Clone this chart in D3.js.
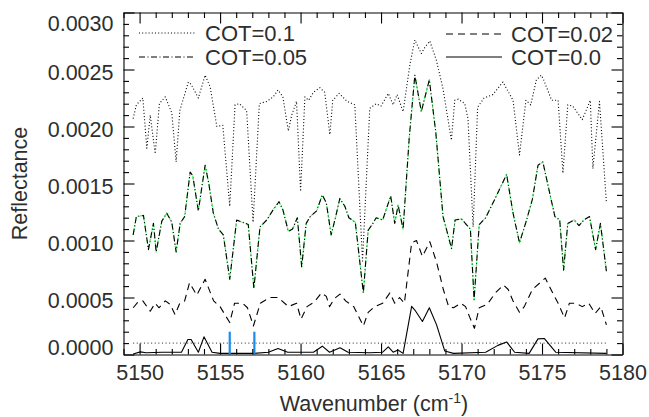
<!DOCTYPE html>
<html>
<head>
<meta charset="utf-8">
<script src="https://cdn.jsdelivr.net/npm/d3@7"></script>
<style>
  html, body { margin: 0; padding: 0; background: #fff; }
  svg { display: block; font-family: "Liberation Sans", Arial, Helvetica, sans-serif; }
</style>
</head>
<body>
<svg id="chart" width="649" height="417"></svg>
<script>
// ---------- data (wavenumber cm^-1, reflectance) ----------
const xDomain = [5149, 5180];
const yDomain = [0, 0.003];
const xMajorTicks = [5150, 5155, 5160, 5165, 5170, 5175, 5180];
const yMajorTicks = [0, 0.0005, 0.0010, 0.0015, 0.0020, 0.0025, 0.0030];
const legendLabels = ["COT=0.1", "COT=0.05", "COT=0.02", "COT=0.0"];

const cot01 = [
  [5149.6,0.00207],[5149.8,0.00219],[5150.2,0.00225],[5150.45,0.00181],[5150.66,0.00210],
  [5150.97,0.00176],[5151.23,0.00220],[5151.59,0.00226],[5152.0,0.00212],[5152.27,0.00169],
  [5152.5,0.00214],[5153.03,0.00239],[5153.2,0.00237],[5153.65,0.00225],[5154.07,0.00245],
  [5154.38,0.00235],[5154.8,0.00200],[5155.17,0.00201],[5155.6,0.00130],[5155.93,0.00219],
  [5156.2,0.00220],[5156.65,0.00214],[5157.05,0.00116],[5157.44,0.00220],[5157.9,0.00222],
  [5158.3,0.00226],[5158.6,0.00232],[5158.9,0.00226],[5159.24,0.00196],[5159.45,0.00210],
  [5159.75,0.00222],[5160.0,0.00143],[5160.27,0.00226],[5160.5,0.00223],[5160.8,0.00230],
  [5161.2,0.00234],[5161.5,0.00230],[5161.82,0.00193],[5162.0,0.00223],[5162.4,0.00229],
  [5162.9,0.00222],[5163.37,0.00219],[5163.85,0.00082],[5164.3,0.00216],[5164.7,0.00220],
  [5165.0,0.00218],[5165.45,0.00229],[5165.75,0.00219],[5166.0,0.00228],[5166.37,0.00213],
  [5166.8,0.00255],[5167.1,0.00276],[5167.5,0.00264],[5167.75,0.00270],[5168.03,0.00275],
  [5168.44,0.00258],[5168.85,0.00233],[5169.37,0.00188],[5169.58,0.00223],[5169.8,0.00224],
  [5170.2,0.00220],[5170.4,0.00207],[5170.72,0.00112],[5171.0,0.00217],[5171.4,0.00225],
  [5171.95,0.00228],[5172.57,0.00239],[5173.2,0.00223],[5173.6,0.00175],[5174.0,0.00223],
  [5174.3,0.00219],[5174.65,0.00241],[5174.96,0.00245],[5175.1,0.00241],[5175.6,0.00223],
  [5176.0,0.00223],[5176.3,0.00159],[5176.6,0.00219],[5176.9,0.00218],[5177.5,0.00206],
  [5178.0,0.00223],[5178.16,0.00163],[5178.57,0.00222],[5179.0,0.00133]
];

const cot005 = [
  [5149.6,0.00105],[5149.8,0.00121],[5150.24,0.00122],[5150.55,0.00092],[5150.86,0.00115],
  [5151.03,0.00090],[5151.38,0.00117],[5151.69,0.00124],[5152.0,0.00116],[5152.27,0.00090],
  [5152.52,0.00115],[5152.8,0.00121],[5153.14,0.00160],[5153.3,0.00157],[5153.65,0.00126],
  [5154.07,0.00166],[5154.3,0.00150],[5154.58,0.00124],[5154.9,0.00110],[5155.2,0.00105],
  [5155.6,0.00066],[5156.03,0.00118],[5156.4,0.00116],[5156.75,0.00114],[5157.1,0.00058],
  [5157.48,0.00112],[5157.9,0.00118],[5158.3,0.00127],[5158.66,0.00134],[5158.9,0.00127],
  [5159.24,0.00108],[5159.5,0.00110],[5159.8,0.00120],[5160.07,0.00077],[5160.35,0.00115],
  [5160.6,0.00121],[5161.0,0.00126],[5161.35,0.00140],[5161.6,0.00133],[5161.9,0.00105],
  [5162.2,0.00122],[5162.44,0.00137],[5162.75,0.00130],[5163.0,0.00120],[5163.4,0.00116],
  [5163.9,0.00054],[5164.2,0.00109],[5164.45,0.00114],[5164.7,0.00120],[5165.1,0.00118],
  [5165.6,0.00139],[5165.85,0.00115],[5166.06,0.00131],[5166.37,0.00110],[5166.75,0.00190],
  [5167.1,0.00245],[5167.5,0.00213],[5168.0,0.00241],[5168.4,0.00195],[5168.85,0.00121],
  [5169.38,0.00093],[5169.6,0.00118],[5170.0,0.00119],[5170.3,0.00114],[5170.55,0.00110],
  [5170.78,0.00048],[5171.1,0.00114],[5171.5,0.00120],[5172.06,0.00136],[5172.8,0.00158],
  [5173.2,0.00124],[5173.6,0.00098],[5174.0,0.00116],[5174.4,0.00136],[5174.75,0.00166],
  [5175.05,0.00169],[5175.8,0.00121],[5176.1,0.00118],[5176.34,0.00074],[5176.6,0.00115],
  [5177.0,0.00118],[5177.3,0.00113],[5177.6,0.00118],[5177.95,0.00121],[5178.33,0.00092],
  [5178.63,0.00115],[5179.0,0.00073]
];

// green dotted companion curve (overlies COT=0.05)
const cot005Green = cot005;

const cot002 = [
  [5149.6,0.00041],[5149.9,0.00046],[5150.2,0.00047],[5150.66,0.00038],[5150.97,0.00045],
  [5151.2,0.00041],[5151.6,0.00047],[5151.9,0.00044],[5152.2,0.00035],[5152.5,0.00045],
  [5152.8,0.00047],[5153.1,0.00063],[5153.55,0.00052],[5154.07,0.00066],[5154.6,0.00047],
  [5155.0,0.00042],[5155.6,0.00028],[5155.9,0.00045],[5156.4,0.00045],[5156.7,0.00041],
  [5157.07,0.00025],[5157.5,0.00045],[5158.1,0.00050],[5158.6,0.00050],[5159.25,0.00042],
  [5159.75,0.00045],[5160.03,0.00031],[5160.4,0.00042],[5160.85,0.00046],[5161.3,0.00054],
  [5161.6,0.00051],[5161.8,0.00042],[5162.1,0.00049],[5162.45,0.00053],[5162.8,0.00047],
  [5163.3,0.00042],[5163.9,0.00025],[5164.2,0.00037],[5164.6,0.00042],[5165.1,0.00045],
  [5165.55,0.00054],[5165.85,0.00045],[5166.15,0.00050],[5166.45,0.00045],[5166.9,0.00098],
  [5167.2,0.00100],[5167.57,0.00086],[5168.03,0.00099],[5168.45,0.00081],[5168.87,0.00057],
  [5169.2,0.00042],[5169.5,0.00041],[5169.95,0.00045],[5170.25,0.00042],[5170.5,0.00033],
  [5170.8,0.00023],[5171.1,0.00041],[5171.6,0.00044],[5172.1,0.00054],[5172.6,0.00061],
  [5172.9,0.00057],[5173.2,0.00047],[5173.6,0.00037],[5173.9,0.00042],[5174.4,0.00057],
  [5175.2,0.00067],[5175.7,0.00053],[5176.0,0.00045],[5176.4,0.00032],[5176.7,0.00045],
  [5177.1,0.00045],[5177.5,0.00042],[5177.9,0.00045],[5178.3,0.00036],[5178.65,0.00042],
  [5179.0,0.00026]
];

const cot000 = [
  [5149.6,0.000005],[5150.05,0.000023],[5150.4,0.000015],[5151.4,0.000020],[5152.6,0.000020],
  [5153.0,0.000131],[5153.2,0.000131],[5153.65,0.000020],[5154.0,0.000155],[5154.5,0.000020],
  [5155.0,0.000010],[5155.8,0.000010],[5157.1,0.000010],[5158.0,0.000020],[5158.6,0.000053],
  [5159.2,0.000020],[5160.8,0.000020],[5161.35,0.000073],[5161.8,0.000020],[5162.45,0.000059],
  [5162.95,0.000020],[5164.3,0.000015],[5165.1,0.000020],[5165.45,0.000067],[5165.75,0.000020],
  [5166.05,0.000040],[5166.37,0.000010],[5166.9,0.000423],[5167.1,0.000390],[5167.57,0.000290],
  [5168.0,0.000410],[5168.45,0.000260],[5168.96,0.000030],[5169.5,0.000010],[5171.5,0.000020],
  [5172.26,0.000080],[5172.8,0.000110],[5173.3,0.000020],[5174.2,0.000010],[5174.75,0.000137],
  [5175.15,0.000140],[5175.85,0.000020],[5179.0,0.000010]
];

const noiseLevel = [[5149.6, 0.0001], [5179.0, 0.0001]];
const markerLines = [5155.6, 5157.13];
const markerTop = 0.0002;

// ---------- layout ----------
const L = 123.5, R = 622.5, T = 12.5, B = 354.5;
const FONT = 21.5;
const TEXT_COLOR = "#2e2e2e";

const svg = d3.select("#chart");
const x = d3.scaleLinear().domain(xDomain).range([L, R]);
const y = d3.scaleLinear().domain(yDomain).range([B, T]);

const line = d3.line().x(d => x(d[0])).y(d => y(d[1]));
const plot = svg.append("g");

function drawSeries(data, opts) {
  plot.append("path").datum(data)
    .attr("d", line)
    .attr("fill", "none")
    .attr("stroke", opts.color || "#000")
    .attr("stroke-width", opts.width || 1.1)
    .attr("stroke-dasharray", opts.dash || null)
    .attr("stroke-linejoin", "round");
}

drawSeries(noiseLevel, { dash: "1,2.6", width: 1, color: "#222" });
drawSeries(cot01, { dash: "1,2.2", color: "#000" });
drawSeries(cot005Green, { dash: "1.2,1.6", color: "#33ff55", width: 1.4 });
drawSeries(cot005, { dash: "6,2.5,1,2.5", color: "#000" });
drawSeries(cot002, { dash: "7,5", color: "#000" });
drawSeries(cot000, { color: "#000" });

// blue marker lines
plot.selectAll("line.marker").data(markerLines).enter().append("line")
  .attr("class", "marker")
  .attr("x1", d => x(d)).attr("x2", d => x(d))
  .attr("y1", y(0)).attr("y2", y(markerTop))
  .attr("stroke", "#1a8cf0").attr("stroke-width", 2.2);

// ---------- axes ----------
const xMinor = d3.range(xDomain[0], xDomain[1] + 0.001, 1).filter(v => !xMajorTicks.includes(Math.round(v)));
const yMinor = d3.range(0, 31).map(i => i * 0.0001).filter((v, i) => i % 5 !== 0);

function styleAxis(g) {
  g.selectAll("path.domain").attr("stroke", "#000").attr("stroke-width", 1.1);
  g.selectAll(".tick line").attr("stroke", "#000").attr("stroke-width", 1.1);
  g.selectAll("text").attr("fill", TEXT_COLOR).style("font-size", FONT + "px")
    .style("font-family", "'Liberation Sans', Arial, sans-serif");
}

// bottom
const gB = svg.append("g").attr("transform", `translate(0,${B})`)
  .call(d3.axisBottom(x).tickValues(xMajorTicks).tickFormat(d3.format("d"))
    .tickSizeInner(-11).tickSizeOuter(0).tickPadding(10));
styleAxis(gB);
svg.append("g").attr("transform", `translate(0,${B})`)
  .call(d3.axisBottom(x).tickValues(xMinor).tickFormat("").tickSizeInner(-5.5).tickSizeOuter(0))
  .call(styleAxis).select("path.domain").remove();

// top
svg.append("g").attr("transform", `translate(0,${T})`)
  .call(d3.axisTop(x).tickValues(xMajorTicks).tickFormat("").tickSizeInner(-11).tickSizeOuter(0))
  .call(styleAxis);
svg.append("g").attr("transform", `translate(0,${T})`)
  .call(d3.axisTop(x).tickValues(xMinor).tickFormat("").tickSizeInner(-5.5).tickSizeOuter(0))
  .call(styleAxis).select("path.domain").remove();

// left
const gL = svg.append("g").attr("transform", `translate(${L},0)`)
  .call(d3.axisLeft(y).tickValues(yMajorTicks).tickFormat(d3.format(".4f"))
    .tickSizeInner(-11).tickSizeOuter(0).tickPadding(10));
styleAxis(gL);
gL.selectAll(".tick text")
  .attr("dy", null)
  .attr("dominant-baseline", "central")
  .attr("y", d => {
    const ty = y(d);
    const c = Math.max(T + 11, Math.min(B - 7, ty + 2.5));
    return c - ty;
  });
svg.append("g").attr("transform", `translate(${L},0)`)
  .call(d3.axisLeft(y).tickValues(yMinor).tickFormat("").tickSizeInner(-5.5).tickSizeOuter(0))
  .call(styleAxis).select("path.domain").remove();

// right
svg.append("g").attr("transform", `translate(${R},0)`)
  .call(d3.axisRight(y).tickValues(yMajorTicks).tickFormat("").tickSizeInner(-11).tickSizeOuter(0))
  .call(styleAxis);
svg.append("g").attr("transform", `translate(${R},0)`)
  .call(d3.axisRight(y).tickValues(yMinor).tickFormat("").tickSizeInner(-5.5).tickSizeOuter(0))
  .call(styleAxis).select("path.domain").remove();

// ---------- titles ----------
svg.append("text")
  .attr("transform", `translate(27,${(T + B) / 2}) rotate(-90)`)
  .attr("text-anchor", "middle")
  .attr("fill", TEXT_COLOR)
  .style("font-size", FONT + "px")
  .text("Reflectance");

const xt = svg.append("text")
  .attr("x", (L + R) / 2 + 1).attr("y", 411)
  .attr("text-anchor", "middle")
  .attr("fill", TEXT_COLOR)
  .style("font-size", FONT + "px");
xt.append("tspan").text("Wavenumber (cm");
xt.append("tspan").attr("dy", -8).style("font-size", "14px").text("-1");
xt.append("tspan").attr("dy", 8).text(")");

// ---------- legend ----------
const legendItems = [
  { label: legendLabels[0], x1: 139, x2: 195, y: 33, tx: 205, dash: "1,2.2" },
  { label: legendLabels[1], x1: 139, x2: 195, y: 57, tx: 205, dash: "6,2.5,1,2.5" },
  { label: legendLabels[2], x1: 446, x2: 502, y: 34, tx: 511, dash: "7,5" },
  { label: legendLabels[3], x1: 446, x2: 502, y: 57, tx: 511, dash: null }
];
const lg = svg.append("g");
legendItems.forEach(it => {
  lg.append("line")
    .attr("x1", it.x1).attr("x2", it.x2).attr("y1", it.y).attr("y2", it.y)
    .attr("stroke", "#000").attr("stroke-width", 1.1)
    .attr("stroke-dasharray", it.dash);
  lg.append("text")
    .attr("x", it.tx).attr("y", it.y + 8)
    .attr("fill", TEXT_COLOR)
    .style("font-size", (FONT + 0.5) + "px")
    .text(it.label);
});
</script>
</body>
</html>
